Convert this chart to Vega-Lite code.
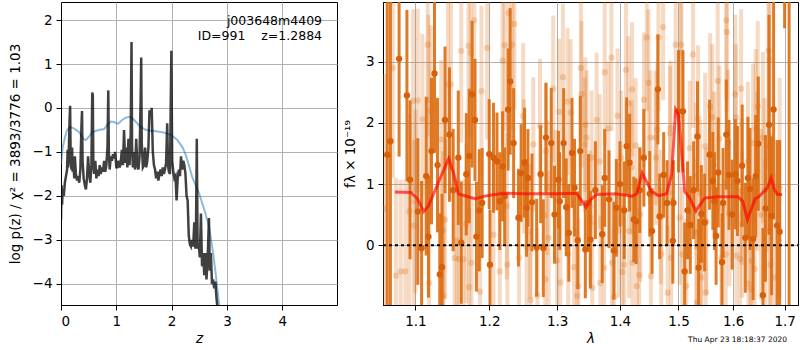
{
"$schema": "https://vega.github.io/schema/vega-lite/v6.json",
"padding": {"left": 7, "top": 1, "right": 0, "bottom": 0},
"spacing": 46,
"bounds": "flush",
"config": {
 "font": "DejaVu Sans",
 "view": {"stroke": "black", "strokeWidth": 1},
 "axis": {"grid": true, "gridColor": "#b0b0b0", "gridWidth": 1, "domainColor": "black", "tickColor": "black", "tickSize": 5, "labelPadding": 4, "labelFontSize": 13.5, "titleFontSize": 13.5, "labelColor": "black", "titleColor": "black", "titleFontWeight": "normal"}
},
"datasets": {
 "pz": [
{"z":0.00,"p":-2.55},{"z":0.01,"p":-1.75},{"z":0.02,"p":-2.2},{"z":0.03,"p":-1.85},{"z":0.05,"p":-2.0},{"z":0.07,"p":-1.7},{"z":0.09,"p":-1.55},{"z":0.11,"p":-1.4},{"z":0.12,"p":-0.95},{"z":0.13,"p":-1.35},{"z":0.14,"p":-1.05},{"z":0.155,"p":-0.3},{"z":0.165,"p":0.05},{"z":0.175,"p":-1.2},{"z":0.19,"p":-1.4},{"z":0.20,"p":-0.9},{"z":0.21,"p":-1.45},{"z":0.22,"p":-1.2},{"z":0.24,"p":-1.6},{"z":0.25,"p":-1.1},{"z":0.27,"p":-1.5},{"z":0.29,"p":-1.65},{"z":0.31,"p":-1.55},{"z":0.33,"p":-1.7},{"z":0.35,"p":-1.4},{"z":0.37,"p":-0.4},{"z":0.38,"p":-0.07},{"z":0.39,"p":-1.2},{"z":0.41,"p":-1.6},{"z":0.43,"p":-1.75},{"z":0.45,"p":-1.85},{"z":0.47,"p":-1.6},{"z":0.49,"p":-1.1},{"z":0.51,"p":-1.5},{"z":0.53,"p":-1.7},{"z":0.55,"p":-1.3},{"z":0.565,"p":0.35},{"z":0.575,"p":0.3},{"z":0.585,"p":-1.3},{"z":0.60,"p":-1.5},{"z":0.62,"p":-1.2},{"z":0.64,"p":-1.6},{"z":0.66,"p":-1.4},{"z":0.68,"p":-1.55},{"z":0.70,"p":-1.3},{"z":0.72,"p":-1.5},{"z":0.74,"p":-1.35},{"z":0.76,"p":-1.45},{"z":0.78,"p":-1.2},{"z":0.80,"p":-1.45},{"z":0.82,"p":-1.3},{"z":0.84,"p":-0.9},{"z":0.855,"p":0.4},{"z":0.865,"p":-1.0},{"z":0.88,"p":-1.4},{"z":0.90,"p":-1.1},{"z":0.92,"p":-1.2},{"z":0.94,"p":-1.05},{"z":0.96,"p":-1.15},{"z":0.98,"p":-1.0},{"z":1.00,"p":-1.35},{"z":1.02,"p":-1.35},{"z":1.04,"p":-1.2},{"z":1.06,"p":-1.35},{"z":1.08,"p":-1.25},{"z":1.10,"p":-0.95},{"z":1.12,"p":-1.3},{"z":1.14,"p":-0.5},{"z":1.16,"p":-1.25},{"z":1.18,"p":-0.9},{"z":1.20,"p":-1.35},{"z":1.22,"p":-0.7},{"z":1.24,"p":-1.3},{"z":1.26,"p":-0.6},{"z":1.275,"p":1.5},{"z":1.285,"p":-0.9},{"z":1.30,"p":-1.35},{"z":1.32,"p":-1.0},{"z":1.34,"p":-1.4},{"z":1.36,"p":-0.7},{"z":1.38,"p":-1.3},{"z":1.40,"p":-1.4},{"z":1.42,"p":-1.1},{"z":1.44,"p":0.2},{"z":1.45,"p":1.15},{"z":1.46,"p":-0.8},{"z":1.48,"p":-1.35},{"z":1.50,"p":-1.3},{"z":1.52,"p":-0.9},{"z":1.54,"p":-1.35},{"z":1.56,"p":-1.2},{"z":1.58,"p":-0.9},{"z":1.60,"p":-0.05},{"z":1.62,"p":-0.2},{"z":1.64,"p":0.0},{"z":1.66,"p":-1.0},{"z":1.68,"p":-1.3},{"z":1.70,"p":-1.4},{"z":1.72,"p":-1.6},{"z":1.74,"p":-1.45},{"z":1.76,"p":-1.65},{"z":1.78,"p":-1.5},{"z":1.80,"p":-1.4},{"z":1.82,"p":-1.55},{"z":1.84,"p":-1.35},{"z":1.86,"p":-1.5},{"z":1.88,"p":-1.4},{"z":1.90,"p":-1.25},{"z":1.92,"p":-0.35},{"z":1.935,"p":-1.3},{"z":1.95,"p":-1.45},{"z":1.97,"p":-1.5},{"z":1.985,"p":0.2},{"z":1.995,"p":1.3},{"z":2.01,"p":-1.2},{"z":2.03,"p":-1.45},{"z":2.05,"p":-1.6},{"z":2.07,"p":-1.55},{"z":2.09,"p":-2.1},{"z":2.11,"p":-1.6},{"z":2.13,"p":-1.4},{"z":2.15,"p":-1.55},{"z":2.17,"p":-1.1},{"z":2.19,"p":-1.4},{"z":2.21,"p":-1.2},{"z":2.23,"p":-1.3},{"z":2.25,"p":-1.5},{"z":2.27,"p":-2.0},{"z":2.29,"p":-2.1},{"z":2.30,"p":-2.5},{"z":2.31,"p":-2.9},{"z":2.33,"p":-3.1},{"z":2.35,"p":-3.15},{"z":2.37,"p":-3.0},{"z":2.39,"p":-3.15},{"z":2.41,"p":-2.6},{"z":2.43,"p":-3.2},{"z":2.44,"p":-2.9},{"z":2.455,"p":-0.7},{"z":2.47,"p":-3.2},{"z":2.49,"p":-3.1},{"z":2.51,"p":-3.4},{"z":2.53,"p":-2.4},{"z":2.55,"p":-3.6},{"z":2.57,"p":-3.3},{"z":2.59,"p":-3.8},{"z":2.61,"p":-3.3},{"z":2.63,"p":-3.9},{"z":2.65,"p":-3.5},{"z":2.675,"p":-2.5},{"z":2.69,"p":-3.7},{"z":2.71,"p":-3.3},{"z":2.73,"p":-4.0},{"z":2.75,"p":-3.9},{"z":2.77,"p":-4.1},{"z":2.79,"p":-3.95},{"z":2.81,"p":-4.3},{"z":2.84,"p":-4.7}
 ],
 "pzs": [
{"z":0.0,"p":-1.28},{"z":0.03,"p":-0.9},{"z":0.07,"p":-0.67},{"z":0.11,"p":-0.5},{"z":0.16,"p":-0.43},{"z":0.24,"p":-0.47},{"z":0.33,"p":-0.55},{"z":0.40,"p":-0.7},{"z":0.45,"p":-0.73},{"z":0.50,"p":-0.66},{"z":0.57,"p":-0.55},{"z":0.68,"p":-0.5},{"z":0.78,"p":-0.48},{"z":0.84,"p":-0.38},{"z":0.90,"p":-0.31},{"z":0.96,"p":-0.32},{"z":1.03,"p":-0.36},{"z":1.10,"p":-0.28},{"z":1.17,"p":-0.22},{"z":1.24,"p":-0.2},{"z":1.32,"p":-0.27},{"z":1.42,"p":-0.41},{"z":1.52,"p":-0.49},{"z":1.62,"p":-0.52},{"z":1.72,"p":-0.53},{"z":1.83,"p":-0.55},{"z":1.92,"p":-0.58},{"z":2.0,"p":-0.62},{"z":2.1,"p":-0.72},{"z":2.2,"p":-0.9},{"z":2.25,"p":-1.05},{"z":2.3,"p":-1.25},{"z":2.375,"p":-1.58},{"z":2.45,"p":-1.8},{"z":2.5,"p":-1.95},{"z":2.6,"p":-2.35},{"z":2.68,"p":-2.72},{"z":2.75,"p":-3.3},{"z":2.8,"p":-3.8},{"z":2.86,"p":-4.48},{"z":2.9,"p":-4.9}
 ],
 "model": [
{"l":1.0737,"f":0.87},{"l":1.094,"f":0.86},{"l":1.102,"f":0.77},{"l":1.111,"f":0.55},{"l":1.117,"f":0.64},{"l":1.131,"f":1.05},{"l":1.144,"f":1.42},{"l":1.151,"f":1.16},{"l":1.157,"f":0.84},{"l":1.168,"f":0.80},{"l":1.18,"f":0.76},{"l":1.197,"f":0.81},{"l":1.22,"f":0.85},{"l":1.25,"f":0.84},{"l":1.3,"f":0.84},{"l":1.33,"f":0.85},{"l":1.338,"f":0.73},{"l":1.345,"f":0.62},{"l":1.352,"f":0.74},{"l":1.362,"f":0.83},{"l":1.393,"f":0.84},{"l":1.42,"f":0.80},{"l":1.428,"f":0.84},{"l":1.437,"f":1.18},{"l":1.443,"f":1.07},{"l":1.453,"f":0.88},{"l":1.465,"f":0.81},{"l":1.479,"f":0.84},{"l":1.488,"f":1.16},{"l":1.495,"f":2.22},{"l":1.5,"f":2.14},{"l":1.505,"f":1.59},{"l":1.511,"f":0.88},{"l":1.52,"f":0.77},{"l":1.531,"f":0.56},{"l":1.537,"f":0.64},{"l":1.547,"f":0.77},{"l":1.572,"f":0.79},{"l":1.609,"f":0.79},{"l":1.618,"f":0.72},{"l":1.627,"f":0.42},{"l":1.633,"f":0.56},{"l":1.642,"f":0.76},{"l":1.65,"f":0.80},{"l":1.666,"f":0.94},{"l":1.673,"f":1.10},{"l":1.68,"f":0.90},{"l":1.686,"f":0.83},{"l":1.695,"f":0.83}
 ],
 "dark": [
{"l":1.064,"f":1.48,"lo":-2.52,"hi":5.48},{"l":1.068,"f":1.70,"lo":-2.3,"hi":5.7},{"l":1.079,"f":3.05,"lo":1.45,"hi":4.65},{"l":1.089,"f":2.45,"lo":1.05,"hi":3.85},{"l":1.093,"f":1.07,"lo":-0.23,"hi":2.37},{"l":1.103,"f":0.55,"lo":-0.65,"hi":1.75},{"l":1.108,"f":-0.05,"lo":-1.15,"hi":1.05},{"l":1.114,"f":1.13,"lo":-0.17,"hi":2.43},{"l":1.117,"f":0.14,"lo":-0.86,"hi":1.14},{"l":1.121,"f":1.54,"lo":0.34,"hi":2.74},{"l":1.125,"f":2.81,"lo":1.51,"hi":4.11},{"l":1.129,"f":1.31,"lo":0.21,"hi":2.41},{"l":1.132,"f":-0.48,"lo":-1.48,"hi":0.52},{"l":1.135,"f":-0.36,"lo":-1.56,"hi":0.84},{"l":1.139,"f":2.05,"lo":0.85,"hi":3.25},{"l":1.145,"f":1.81,"lo":0.71,"hi":2.91},{"l":1.150,"f":0.90,"lo":-0.1,"hi":1.9},{"l":1.157,"f":1.43,"lo":0.33,"hi":2.53},{"l":1.161,"f":0.04,"lo":-0.96,"hi":1.04},{"l":1.168,"f":1.16,"lo":0.16,"hi":2.16},{"l":1.172,"f":1.46,"lo":0.36,"hi":2.56},{"l":1.176,"f":2.47,"lo":1.27,"hi":3.67},{"l":1.180,"f":2.05,"lo":1.05,"hi":3.05},{"l":1.182,"f":0.14,"lo":-0.76,"hi":1.04},{"l":1.186,"f":0.57,"lo":-0.43,"hi":1.57},{"l":1.190,"f":0.69,"lo":-0.21,"hi":1.59},{"l":1.200,"f":1.49,"lo":0.59,"hi":2.39},{"l":1.201,"f":-0.32,"lo":-1.22,"hi":0.58},{"l":1.206,"f":1.43,"lo":0.53,"hi":2.33},{"l":1.211,"f":1.37,"lo":0.57,"hi":2.17},{"l":1.215,"f":0.72,"lo":-0.08,"hi":1.52},{"l":1.219,"f":1.29,"lo":0.39,"hi":2.19},{"l":1.222,"f":0.80,"lo":0.0,"hi":1.6},{"l":1.227,"f":2.22,"lo":1.22,"hi":3.22},{"l":1.230,"f":2.68,"lo":1.48,"hi":3.88},{"l":1.235,"f":1.67,"lo":0.77,"hi":2.57},{"l":1.242,"f":0.45,"lo":-0.35,"hi":1.25},{"l":1.246,"f":1.18,"lo":0.38,"hi":1.98},{"l":1.251,"f":1.35,"lo":0.45,"hi":2.25},{"l":1.254,"f":0.61,"lo":-0.19,"hi":1.41},{"l":1.256,"f":1.10,"lo":0.3,"hi":1.9},{"l":1.262,"f":0.70,"lo":-0.1,"hi":1.5},{"l":1.269,"f":-0.04,"lo":-0.84,"hi":0.76},{"l":1.275,"f":1.16,"lo":0.36,"hi":1.96},{"l":1.279,"f":-0.05,"lo":-0.85,"hi":0.75},{"l":1.283,"f":1.76,"lo":0.86,"hi":2.66},{"l":1.291,"f":1.67,"lo":0.77,"hi":2.57},{"l":1.296,"f":0.50,"lo":-0.3,"hi":1.3},{"l":1.302,"f":1.07,"lo":0.27,"hi":1.87},{"l":1.304,"f":0.72,"lo":-0.08,"hi":1.52},{"l":1.310,"f":1.67,"lo":0.77,"hi":2.57},{"l":1.314,"f":0.62,"lo":-0.18,"hi":1.42},{"l":1.318,"f":0.20,"lo":-0.6,"hi":1.0},{"l":1.323,"f":1.51,"lo":0.61,"hi":2.41},{"l":1.327,"f":0.94,"lo":0.14,"hi":1.74},{"l":1.332,"f":0.08,"lo":-0.72,"hi":0.88},{"l":1.336,"f":1.54,"lo":0.64,"hi":2.44},{"l":1.344,"f":-0.07,"lo":-0.87,"hi":0.73},{"l":1.349,"f":0.69,"lo":-0.11,"hi":1.49},{"l":1.352,"f":0.09,"lo":-0.71,"hi":0.89},{"l":1.360,"f":0.90,"lo":0.1,"hi":1.7},{"l":1.371,"f":0.18,"lo":-0.62,"hi":0.98},{"l":1.375,"f":1.10,"lo":0.3,"hi":1.9},{"l":1.382,"f":0.75,"lo":-0.05,"hi":1.55},{"l":1.390,"f":-0.09,"lo":-0.89,"hi":0.71},{"l":1.394,"f":0.61,"lo":-0.19,"hi":1.41},{"l":1.400,"f":1.00,"lo":0.3,"hi":1.7},{"l":1.407,"f":0.57,"lo":-0.23,"hi":1.37},{"l":1.411,"f":1.62,"lo":0.82,"hi":2.42},{"l":1.416,"f":1.35,"lo":0.55,"hi":2.15},{"l":1.423,"f":0.42,"lo":-0.28,"hi":1.12},{"l":1.427,"f":0.39,"lo":-0.31,"hi":1.09},{"l":1.433,"f":0.90,"lo":0.2,"hi":1.6},{"l":1.440,"f":1.43,"lo":0.63,"hi":2.23},{"l":1.450,"f":0.84,"lo":0.14,"hi":1.54},{"l":1.454,"f":0.23,"lo":-0.47,"hi":0.93},{"l":1.464,"f":2.55,"lo":1.65,"hi":3.45},{"l":1.467,"f":0.47,"lo":-0.23,"hi":1.17},{"l":1.474,"f":1.15,"lo":0.45,"hi":1.85},{"l":1.480,"f":0.69,"lo":-0.01,"hi":1.39},{"l":1.490,"f":0.07,"lo":-0.63,"hi":0.77},{"l":1.491,"f":0.69,"lo":-0.01,"hi":1.39},{"l":1.500,"f":2.19,"lo":1.19,"hi":3.19},{"l":1.508,"f":2.19,"lo":1.19,"hi":3.19},{"l":1.511,"f":-0.43,"lo":-1.23,"hi":0.37},{"l":1.516,"f":0.57,"lo":-0.23,"hi":1.37},{"l":1.521,"f":0.33,"lo":-0.47,"hi":1.13},{"l":1.527,"f":0.90,"lo":0.1,"hi":1.7},{"l":1.534,"f":1.78,"lo":0.88,"hi":2.68},{"l":1.536,"f":-0.37,"lo":-1.17,"hi":0.43},{"l":1.541,"f":0.51,"lo":-0.29,"hi":1.31},{"l":1.547,"f":0.37,"lo":-0.43,"hi":1.17},{"l":1.556,"f":1.48,"lo":0.58,"hi":2.38},{"l":1.562,"f":1.05,"lo":0.25,"hi":1.85},{"l":1.565,"f":0.72,"lo":-0.08,"hi":1.52},{"l":1.568,"f":0.15,"lo":-0.65,"hi":0.95},{"l":1.572,"f":1.19,"lo":0.29,"hi":2.09},{"l":1.579,"f":-0.28,"lo":-1.08,"hi":0.52},{"l":1.581,"f":0.69,"lo":-0.21,"hi":1.59},{"l":1.587,"f":1.81,"lo":0.91,"hi":2.71},{"l":1.592,"f":1.15,"lo":0.25,"hi":2.05},{"l":1.598,"f":0.50,"lo":-0.4,"hi":1.4},{"l":1.604,"f":1.16,"lo":0.26,"hi":2.06},{"l":1.608,"f":1.05,"lo":0.15,"hi":1.95},{"l":1.617,"f":1.30,"lo":0.3,"hi":2.3},{"l":1.623,"f":0.12,"lo":-0.78,"hi":1.02},{"l":1.628,"f":1.10,"lo":0.1,"hi":2.1},{"l":1.632,"f":0.92,"lo":-0.08,"hi":1.92},{"l":1.638,"f":0.10,"lo":-0.9,"hi":1.1},{"l":1.643,"f":1.13,"lo":0.13,"hi":2.13},{"l":1.648,"f":1.66,"lo":0.56,"hi":2.76},{"l":1.657,"f":-0.82,"lo":-1.92,"hi":0.28},{"l":1.662,"f":0.60,"lo":-0.6,"hi":1.8},{"l":1.669,"f":1.97,"lo":0.17,"hi":3.77},{"l":1.674,"f":0.48,"lo":-0.82,"hi":1.78},{"l":1.678,"f":2.22,"lo":0.42,"hi":4.02},{"l":1.685,"f":0.32,"lo":-1.08,"hi":1.72},{"l":1.690,"f":0.22,"lo":-1.28,"hi":1.72},{"l":1.700,"f":5.5,"lo":3.55,"hi":7.45},{"l":1.709,"f":-3.0,"lo":-10,"hi":4.5}
 ],
 "light": [
{"l":1.061,"f":0.60,"lo":-1.6,"hi":2.8},{"l":1.071,"f":2.90,"lo":1.1,"hi":4.7},{"l":1.075,"f":-0.50,"lo":-2.1,"hi":1.1},{"l":1.081,"f":-0.43,"lo":-1.93,"hi":1.07},{"l":1.087,"f":-0.43,"lo":-1.93,"hi":1.07},{"l":1.092,"f":0.55,"lo":-1.05,"hi":2.15},{"l":1.097,"f":2.36,"lo":0.86,"hi":3.86},{"l":1.098,"f":0.32,"lo":-1.08,"hi":1.72},{"l":1.100,"f":0.72,"lo":-0.78,"hi":2.22},{"l":1.103,"f":2.37,"lo":0.87,"hi":3.87},{"l":1.109,"f":2.06,"lo":0.66,"hi":3.46},{"l":1.116,"f":3.28,"lo":1.78,"hi":4.78},{"l":1.117,"f":2.37,"lo":0.97,"hi":3.77},{"l":1.118,"f":-0.62,"lo":-2.02,"hi":0.78},{"l":1.120,"f":2.20,"lo":0.8,"hi":3.6},{"l":1.134,"f":1.73,"lo":0.43,"hi":3.03},{"l":1.136,"f":0.24,"lo":-1.06,"hi":1.54},{"l":1.137,"f":-0.83,"lo":-2.13,"hi":0.47},{"l":1.139,"f":0.42,"lo":-0.88,"hi":1.72},{"l":1.143,"f":2.63,"lo":1.23,"hi":4.03},{"l":1.147,"f":2.63,"lo":1.23,"hi":4.03},{"l":1.152,"f":-0.21,"lo":-1.51,"hi":1.09},{"l":1.155,"f":0.07,"lo":-1.23,"hi":1.37},{"l":1.158,"f":-0.23,"lo":-1.53,"hi":1.07},{"l":1.161,"f":3.18,"lo":1.68,"hi":4.68},{"l":1.164,"f":-0.23,"lo":-1.53,"hi":1.07},{"l":1.168,"f":0.35,"lo":-0.95,"hi":1.65},{"l":1.171,"f":3.26,"lo":1.76,"hi":4.76},{"l":1.172,"f":-0.69,"lo":-1.99,"hi":0.61},{"l":1.174,"f":3.15,"lo":1.75,"hi":4.55},{"l":1.175,"f":-0.29,"lo":-1.59,"hi":1.01},{"l":1.179,"f":3.68,"lo":2.08,"hi":5.28},{"l":1.187,"f":-0.76,"lo":-2.06,"hi":0.54},{"l":1.189,"f":2.52,"lo":1.12,"hi":3.92},{"l":1.197,"f":3.23,"lo":1.73,"hi":4.73},{"l":1.206,"f":0.17,"lo":-1.03,"hi":1.37},{"l":1.215,"f":-0.43,"lo":-1.63,"hi":0.77},{"l":1.219,"f":3.02,"lo":1.62,"hi":4.42},{"l":1.222,"f":3.27,"lo":1.87,"hi":4.67},{"l":1.225,"f":0.64,"lo":-0.56,"hi":1.84},{"l":1.226,"f":-0.32,"lo":-1.52,"hi":0.88},{"l":1.228,"f":3.80,"lo":2.3,"hi":5.3},{"l":1.233,"f":3.28,"lo":1.88,"hi":4.68},{"l":1.236,"f":3.62,"lo":2.22,"hi":5.02},{"l":1.243,"f":-0.21,"lo":-1.41,"hi":0.99},{"l":1.249,"f":2.11,"lo":0.91,"hi":3.31},{"l":1.250,"f":1.29,"lo":0.19,"hi":2.39},{"l":1.254,"f":-0.03,"lo":-1.13,"hi":1.07},{"l":1.259,"f":0.23,"lo":-0.87,"hi":1.33},{"l":1.260,"f":-0.90,"lo":-2.0,"hi":0.2},{"l":1.264,"f":1.65,"lo":0.55,"hi":2.75},{"l":1.270,"f":-0.82,"lo":-1.92,"hi":0.28},{"l":1.274,"f":1.95,"lo":0.85,"hi":3.05},{"l":1.282,"f":-0.56,"lo":-1.66,"hi":0.54},{"l":1.283,"f":1.54,"lo":0.44,"hi":2.64},{"l":1.285,"f":0.94,"lo":-0.16,"hi":2.04},{"l":1.287,"f":0.12,"lo":-0.98,"hi":1.22},{"l":1.294,"f":2.56,"lo":1.36,"hi":3.76},{"l":1.297,"f":0.79,"lo":-0.31,"hi":1.89},{"l":1.300,"f":-0.25,"lo":-1.35,"hi":0.85},{"l":1.303,"f":2.18,"lo":0.98,"hi":3.38},{"l":1.305,"f":-0.61,"lo":-1.71,"hi":0.49},{"l":1.309,"f":2.75,"lo":1.55,"hi":3.95},{"l":1.316,"f":2.35,"lo":1.15,"hi":3.55},{"l":1.317,"f":-0.15,"lo":-1.25,"hi":0.95},{"l":1.321,"f":2.17,"lo":0.97,"hi":3.37},{"l":1.326,"f":-0.36,"lo":-1.46,"hi":0.74},{"l":1.331,"f":-0.83,"lo":-1.93,"hi":0.27},{"l":1.333,"f":-0.67,"lo":-1.77,"hi":0.43},{"l":1.337,"f":2.90,"lo":1.7,"hi":4.1},{"l":1.338,"f":2.47,"lo":1.27,"hi":3.67},{"l":1.343,"f":1.65,"lo":0.55,"hi":2.75},{"l":1.344,"f":1.97,"lo":0.87,"hi":3.07},{"l":1.346,"f":1.76,"lo":0.66,"hi":2.86},{"l":1.352,"f":0.45,"lo":-0.65,"hi":1.55},{"l":1.354,"f":1.43,"lo":0.33,"hi":2.53},{"l":1.355,"f":-0.70,"lo":-1.8,"hi":0.4},{"l":1.362,"f":2.05,"lo":0.95,"hi":3.15},{"l":1.367,"f":1.37,"lo":0.27,"hi":2.47},{"l":1.368,"f":-0.62,"lo":-1.72,"hi":0.48},{"l":1.374,"f":-0.37,"lo":-1.47,"hi":0.73},{"l":1.375,"f":2.83,"lo":1.63,"hi":4.03},{"l":1.381,"f":1.91,"lo":0.81,"hi":3.01},{"l":1.386,"f":3.07,"lo":1.87,"hi":4.27},{"l":1.387,"f":-0.29,"lo":-1.39,"hi":0.81},{"l":1.390,"f":-0.85,"lo":-1.95,"hi":0.25},{"l":1.396,"f":2.12,"lo":1.02,"hi":3.22},{"l":1.398,"f":0.24,"lo":-0.86,"hi":1.34},{"l":1.402,"f":1.43,"lo":0.33,"hi":2.53},{"l":1.404,"f":-0.44,"lo":-1.54,"hi":0.66},{"l":1.407,"f":-0.32,"lo":-1.42,"hi":0.78},{"l":1.410,"f":2.87,"lo":1.67,"hi":4.07},{"l":1.414,"f":2.32,"lo":1.22,"hi":3.42},{"l":1.415,"f":0.23,"lo":-0.87,"hi":1.33},{"l":1.419,"f":1.27,"lo":0.17,"hi":2.37},{"l":1.420,"f":2.55,"lo":1.45,"hi":3.65},{"l":1.421,"f":-0.29,"lo":-1.39,"hi":0.81},{"l":1.426,"f":1.63,"lo":0.53,"hi":2.73},{"l":1.428,"f":-0.67,"lo":-1.77,"hi":0.43},{"l":1.432,"f":-0.49,"lo":-1.59,"hi":0.61},{"l":1.434,"f":0.50,"lo":-0.6,"hi":1.6},{"l":1.440,"f":2.38,"lo":1.28,"hi":3.48},{"l":1.445,"f":3.40,"lo":2.2,"hi":4.6},{"l":1.448,"f":2.66,"lo":1.46,"hi":3.86},{"l":1.451,"f":1.76,"lo":0.66,"hi":2.86},{"l":1.452,"f":-0.51,"lo":-1.61,"hi":0.59},{"l":1.460,"f":1.76,"lo":0.66,"hi":2.86},{"l":1.461,"f":1.43,"lo":0.33,"hi":2.53},{"l":1.463,"f":1.89,"lo":0.79,"hi":2.99},{"l":1.465,"f":3.40,"lo":2.2,"hi":4.6},{"l":1.469,"f":0.46,"lo":-0.64,"hi":1.56},{"l":1.470,"f":-0.15,"lo":-1.25,"hi":0.95},{"l":1.473,"f":3.57,"lo":2.37,"hi":4.77},{"l":1.481,"f":-0.78,"lo":-1.88,"hi":0.32},{"l":1.485,"f":1.83,"lo":0.73,"hi":2.93},{"l":1.486,"f":1.92,"lo":0.82,"hi":3.02},{"l":1.487,"f":-0.21,"lo":-1.31,"hi":0.89},{"l":1.495,"f":3.28,"lo":2.08,"hi":4.48},{"l":1.502,"f":0.45,"lo":-0.65,"hi":1.55},{"l":1.504,"f":3.15,"lo":1.95,"hi":4.35},{"l":1.505,"f":3.28,"lo":2.08,"hi":4.48},{"l":1.507,"f":-0.15,"lo":-1.25,"hi":0.95},{"l":1.514,"f":-0.67,"lo":-1.77,"hi":0.43},{"l":1.520,"f":1.59,"lo":0.49,"hi":2.69},{"l":1.526,"f":3.12,"lo":1.92,"hi":4.32},{"l":1.531,"f":1.13,"lo":-0.07,"hi":2.33},{"l":1.532,"f":0.21,"lo":-0.99,"hi":1.41},{"l":1.533,"f":-0.94,"lo":-2.14,"hi":0.26},{"l":1.535,"f":2.07,"lo":0.87,"hi":3.27},{"l":1.539,"f":0.85,"lo":-0.35,"hi":2.05},{"l":1.540,"f":-0.23,"lo":-1.43,"hi":0.97},{"l":1.541,"f":-0.53,"lo":-1.73,"hi":0.67},{"l":1.548,"f":1.62,"lo":0.42,"hi":2.82},{"l":1.549,"f":-0.78,"lo":-1.98,"hi":0.42},{"l":1.550,"f":0.39,"lo":-0.81,"hi":1.59},{"l":1.557,"f":2.27,"lo":1.07,"hi":3.47},{"l":1.561,"f":2.09,"lo":0.89,"hi":3.29},{"l":1.564,"f":1.31,"lo":0.11,"hi":2.51},{"l":1.571,"f":2.69,"lo":1.39,"hi":3.99},{"l":1.574,"f":1.74,"lo":0.54,"hi":2.94},{"l":1.578,"f":-0.21,"lo":-1.41,"hi":0.99},{"l":1.586,"f":-0.15,"lo":-1.35,"hi":1.05},{"l":1.587,"f":3.68,"lo":2.38,"hi":4.98},{"l":1.588,"f":3.49,"lo":2.19,"hi":4.79},{"l":1.590,"f":1.67,"lo":0.47,"hi":2.87},{"l":1.593,"f":0.53,"lo":-0.67,"hi":1.73},{"l":1.604,"f":2.47,"lo":1.17,"hi":3.77},{"l":1.605,"f":2.09,"lo":0.89,"hi":3.29},{"l":1.606,"f":-0.17,"lo":-1.37,"hi":1.03},{"l":1.613,"f":-0.23,"lo":-1.43,"hi":0.97},{"l":1.615,"f":2.56,"lo":1.26,"hi":3.86},{"l":1.616,"f":0.88,"lo":-0.32,"hi":2.08},{"l":1.617,"f":0.34,"lo":-0.86,"hi":1.54},{"l":1.628,"f":1.37,"lo":0.07,"hi":2.67},{"l":1.629,"f":-0.63,"lo":-1.93,"hi":0.67},{"l":1.633,"f":-0.72,"lo":-2.02,"hi":0.58},{"l":1.635,"f":-0.26,"lo":-1.56,"hi":1.04},{"l":1.638,"f":1.67,"lo":0.37,"hi":2.97},{"l":1.641,"f":-0.39,"lo":-1.69,"hi":0.91},{"l":1.643,"f":1.91,"lo":0.61,"hi":3.21},{"l":1.646,"f":1.21,"lo":-0.09,"hi":2.51},{"l":1.647,"f":2.27,"lo":0.87,"hi":3.67},{"l":1.653,"f":0.50,"lo":-0.9,"hi":1.9},{"l":1.657,"f":1.76,"lo":0.36,"hi":3.16},{"l":1.660,"f":0.91,"lo":-0.59,"hi":2.41},{"l":1.662,"f":-0.07,"lo":-1.57,"hi":1.43},{"l":1.668,"f":3.18,"lo":1.38,"hi":4.98},{"l":1.669,"f":1.62,"lo":0.02,"hi":3.22},{"l":1.670,"f":3.04,"lo":1.24,"hi":4.84},{"l":1.671,"f":0.23,"lo":-1.37,"hi":1.83},{"l":1.672,"f":-0.32,"lo":-1.92,"hi":1.28},{"l":1.680,"f":-0.53,"lo":-2.23,"hi":1.17},{"l":1.690,"f":0.94,"lo":-0.86,"hi":2.74}
 ]
},
"hconcat": [
 {
  "width": 276, "height": 303,
  "encoding": {
   "x": {"field": "z", "type": "quantitative", "scale": {"domain": [0, 4.99], "nice": false, "zero": false}, "axis": {"values": [0, 1, 2, 3, 4], "title": "z", "titleFontStyle": "italic", "titlePadding": 4}},
   "y": {"field": "p", "type": "quantitative", "scale": {"domain": [-4.48, 2.41], "nice": false, "zero": false}, "axis": {"values": [-4, -3, -2, -1, 0, 1, 2], "title": "log p(z) / χ² = 3893/3776 = 1.03", "titlePadding": 10}}
  },
  "layer": [
   {"data": {"name": "pzs"}, "mark": {"type": "line", "color": "#1f77b4", "opacity": 0.5, "strokeWidth": 2, "clip": true}},
   {"data": {"name": "pz"}, "mark": {"type": "line", "color": "black", "opacity": 0.75, "strokeWidth": 2.5, "clip": true}},
   {"data": {"values": [{"t": "j003648m4409", "zz": 4.72, "pp": 1.98}, {"t": "ID=991\u00a0\u00a0\u00a0\u00a0z=1.2884", "zz": 4.72, "pp": 1.645}]}, "mark": {"type": "text", "align": "right", "baseline": "middle", "fontSize": 12.5, "color": "black"}, "encoding": {"x": {"field": "zz", "type": "quantitative"}, "y": {"field": "pp", "type": "quantitative"}, "text": {"field": "t"}}}
  ]
 },
 {
  "width": 415, "height": 303,
  "title": {"text": "Thu Apr 23 18:18:37 2020", "orient": "bottom", "anchor": "end", "fontSize": 7.5, "fontWeight": "normal", "color": "black", "offset": -9, "dx": -12},
  "encoding": {
   "x": {"field": "l", "type": "quantitative", "scale": {"type": "log", "domain": [1.0587, 1.727], "nice": false, "zero": false}, "axis": {"values": [1.1, 1.2, 1.3, 1.4, 1.5, 1.6, 1.7], "format": ".1f", "title": "λ", "titleFontStyle": "italic", "titlePadding": 4}},
   "y": {"field": "f", "type": "quantitative", "scale": {"domain": [-0.98, 3.98], "nice": false, "zero": false}, "axis": {"values": [0, 1, 2, 3], "title": "fλ × 10⁻¹⁹", "titlePadding": 8}}
  },
  "layer": [
   {"data": {"name": "light"}, "mark": {"type": "rule", "color": "#db6b10", "opacity": 0.25, "strokeWidth": 4, "clip": true}, "encoding": {"y": {"field": "lo", "type": "quantitative"}, "y2": {"field": "hi"}}},
   {"data": {"name": "light"}, "mark": {"type": "circle", "color": "#db6b10", "opacity": 0.25, "size": 40, "clip": true}},
   {"data": {"name": "dark"}, "mark": {"type": "rule", "color": "#db6b10", "opacity": 0.9, "strokeWidth": 3, "clip": true}, "encoding": {"y": {"field": "lo", "type": "quantitative"}, "y2": {"field": "hi"}}},
   {"data": {"name": "dark"}, "mark": {"type": "circle", "color": "#d9600a", "opacity": 1, "size": 40, "clip": true}},
   {"data": {"name": "model"}, "mark": {"type": "line", "color": "red", "opacity": 0.65, "strokeWidth": 3, "clip": true}},
   {"data": {"values": [{"v": 0}]}, "mark": {"type": "rule", "color": "black", "strokeWidth": 2, "strokeDash": [3, 3]}, "encoding": {"y": {"field": "v", "type": "quantitative"}, "x": {"value": 0}, "x2": {"value": 415}}}
  ]
 }
]
}
